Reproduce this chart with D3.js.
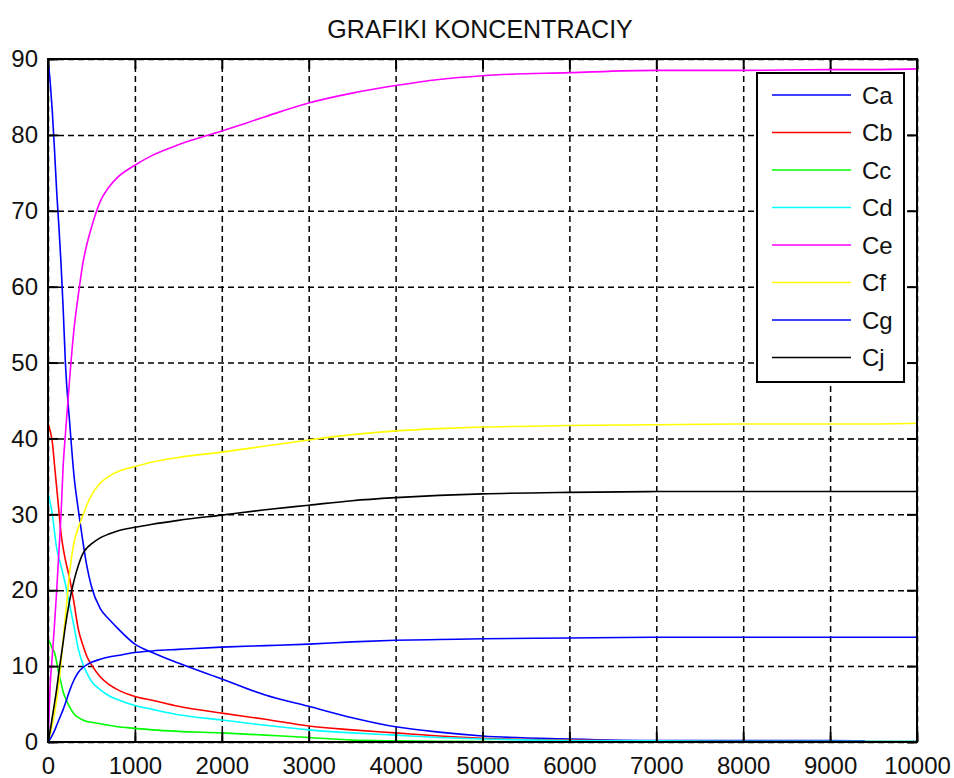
<!DOCTYPE html>
<html>
<head>
<meta charset="utf-8">
<script src="https://cdn.jsdelivr.net/npm/d3@7"></script>
<style>
  body { margin: 0; background: #fff; }
  text { font-family: "Liberation Sans", Arial, sans-serif; }
</style>
</head>
<body>
<script>
var times = [0, 25, 50, 75, 100, 125, 150, 175, 200, 250, 300, 350, 400, 450, 500, 600, 700, 800,
  1000, 1200, 1500, 2000, 2500, 3000, 3500, 4000, 4500, 5000, 6000, 7000, 8000, 9000, 9400, 10000];

var Ca = [90, 87, 83, 78, 72.5, 68, 63, 57, 50, 42, 35, 30.5, 26.5, 23, 20.5, 17.6, 16.2, 15.0,
  12.9, 11.8, 10.4, 8.3, 6.2, 4.7, 3.2, 2.0, 1.3, 0.8, 0.4, 0.2, 0.2, 0.2, 0.15, null];
var Cb = [42, 41, 39.5, 36.5, 33.5, 30.5, 27.5, 25.5, 24, 21.5, 18.3, 14.8, 12.8, 11.2, 10.2, 8.6, 7.6, 6.9,
  6.0, 5.5, 4.7, 3.8, 3.0, 2.1, 1.6, 1.2, 0.8, 0.5, 0.25, 0.1, 0.05, 0.05, 0.05, 0.05];
var Cc = [13.5, 13, 12.3, 11.8, 10.5, 9, 7.8, 6.6, 5.8, 4.6, 3.7, 3.2, 2.9, 2.7, 2.6, 2.4, 2.2, 2.0,
  1.8, 1.6, 1.4, 1.2, 0.9, 0.6, 0.25, 0.15, 0.1, 0.05, 0, 0, 0, 0, 0, 0];
var Cd = [33, 31.5, 30, 27.7, 25.5, 24.3, 23.2, 22, 20.8, 18, 15.2, 12.2, 10.3, 9.0, 8.0, 6.9, 6.1, 5.6,
  4.8, 4.3, 3.6, 2.9, 2.2, 1.6, 1.2, 0.9, 0.6, 0.4, 0.2, 0.15, 0.1, 0.1, 0.1, 0.1];
var Ce = [0, 7.5, 11.5, 15.5, 20, 25, 30, 36.5, 40.5, 48, 54.5, 59, 63, 65.7, 67.8, 71.2, 73.1, 74.4,
  76.0, 77.3, 78.7, 80.5, 82.4, 84.2, 85.5, 86.5, 87.3, 87.8, 88.2, 88.5, 88.5, 88.6, 88.6, 88.7];
var Cf = [0, 1, 2.3, 3.8, 5.6, 7.8, 10.5, 13.6, 16.5, 22.5, 26.3, 28.3, 29.8, 31.3, 32.5, 34.1, 35, 35.6,
  36.3, 36.9, 37.5, 38.2, 39.0, 39.8, 40.5, 41.0, 41.3, 41.5, 41.7, 41.8, 41.9, 41.9, 41.9, 42];
var Cg = [0, 0.4, 0.9, 1.5, 2.2, 2.9, 3.6, 4.3, 5.1, 6.8, 8.2, 9.2, 9.8, 10.2, 10.5, 10.9, 11.2, 11.4,
  11.8, 12.0, 12.2, 12.5, 12.7, 12.9, 13.2, 13.4, 13.5, 13.6, 13.7, 13.8, 13.8, 13.8, 13.8, 13.8];
var Cj = [0, 1.5, 3.3, 5.1, 7, 9.2, 11.2, 13.2, 15.3, 18.7, 21.3, 23.3, 24.8, 25.6, 26.1, 26.9, 27.4, 27.8,
  28.3, 28.7, 29.2, 29.9, 30.6, 31.2, 31.8, 32.2, 32.5, 32.7, 32.9, 33, 33, 33, 33, 33];

var names = ["Ca", "Cb", "Cc", "Cd", "Ce", "Cf", "Cg", "Cj"];
var values = [Ca, Cb, Cc, Cd, Ce, Cf, Cg, Cj];
var colors = ["#0000ff", "#ff0000", "#00ff00", "#00ffff", "#ff00ff", "#ffff00", "#0000ff", "#000000"];

var xTicks = [0, 1000, 2000, 3000, 4000, 5000, 6000, 7000, 8000, 9000, 10000];
var yTicks = [0, 10, 20, 30, 40, 50, 60, 70, 80, 90];

var margins = { top: 59, bottom: 36, left: 48, right: 37 };
var width = 954, height = 778;
var plot_w = width - margins.left - margins.right;
var plot_h = height - margins.top - margins.bottom;

var svg = d3.select("body")
  .append("svg")
  .attr("width", width)
  .attr("height", height);

svg.append("text")
  .attr("x", 480)
  .attr("y", 29)
  .attr("text-anchor", "middle")
  .attr("dominant-baseline", "central")
  .style("font-size", "25px")
  .attr("fill", "#111")
  .text("GRAFIKI KONCENTRACIY");

var g = svg.append("g")
  .attr("transform", "translate(" + margins.left + "," + margins.top + ")");

var x = d3.scaleLinear().domain([0, 10000]).range([0, plot_w]);
var y = d3.scaleLinear().domain([0, 90]).range([plot_h, 0]);

// dashed grid
var gridX = g.append("g")
  .attr("transform", "translate(0," + plot_h + ")")
  .call(d3.axisBottom(x).tickValues(xTicks).tickSize(-plot_h).tickFormat(""));
var gridY = g.append("g")
  .call(d3.axisLeft(y).tickValues(yTicks).tickSize(-plot_w).tickFormat(""));
[gridX, gridY].forEach(function (a) {
  a.select(".domain").remove();
  a.selectAll("line")
    .attr("stroke", "#000")
    .attr("stroke-width", 1.5)
    .attr("stroke-dasharray", "6,4");
});

// curves
var line = d3.line()
  .defined(function (d) { return d[1] !== null; })
  .curve(d3.curveMonotoneX)
  .x(function (d) { return x(d[0]); })
  .y(function (d) { return y(d[1]); });

values.forEach(function (vals, i) {
  g.append("path")
    .datum(times.map(function (t, j) { return [t, vals[j]]; }))
    .attr("fill", "none")
    .attr("stroke", colors[i])
    .attr("stroke-width", 1.6)
    .attr("d", line);
});

// axes with inward ticks on all four sides
var tick = 10;
var axBottom = g.append("g")
  .attr("transform", "translate(0," + plot_h + ")")
  .call(d3.axisBottom(x).tickValues(xTicks).tickFormat(d3.format("d"))
    .tickSizeInner(-tick).tickSizeOuter(0).tickPadding(15));
var axLeft = g.append("g")
  .call(d3.axisLeft(y).tickValues(yTicks).tickFormat(d3.format("d"))
    .tickSizeInner(-tick).tickSizeOuter(0).tickPadding(10));
var axTop = g.append("g")
  .call(d3.axisTop(x).tickValues(xTicks).tickSizeInner(-tick).tickSizeOuter(0).tickFormat(""));
var axRight = g.append("g")
  .attr("transform", "translate(" + plot_w + ",0)")
  .call(d3.axisRight(y).tickValues(yTicks).tickSizeInner(-tick).tickSizeOuter(0).tickFormat(""));
[axBottom, axLeft, axTop, axRight].forEach(function (a) {
  a.select(".domain").remove();
  a.selectAll("line").attr("stroke", "#000").attr("stroke-width", 2);
  a.selectAll("text")
    .style("font-size", "24px")
    .style("font-family", "'Liberation Sans', Arial, sans-serif")
    .attr("fill", "#111");
});

g.append("rect")
  .attr("width", plot_w)
  .attr("height", plot_h)
  .attr("fill", "none")
  .attr("stroke", "#000")
  .attr("stroke-width", 2);

// legend
var legend = svg.append("g").attr("transform", "translate(757,73)");
legend.append("rect")
  .attr("width", 147)
  .attr("height", 309)
  .attr("fill", "#fff")
  .attr("stroke", "#000")
  .attr("stroke-width", 2);

var rows = legend.selectAll("g.row")
  .data(names)
  .enter().append("g")
  .attr("class", "row")
  .attr("transform", function (d, i) { return "translate(0," + (22 + i * 37.5) + ")"; });

rows.append("line")
  .attr("x1", 15).attr("x2", 94)
  .attr("stroke", function (d, i) { return colors[i]; })
  .attr("stroke-width", 1.6);

rows.append("text")
  .attr("x", 105)
  .attr("dominant-baseline", "central")
  .style("font-size", "24px")
  .attr("fill", "#111")
  .text(function (d) { return d; });
</script>
</body>
</html>
